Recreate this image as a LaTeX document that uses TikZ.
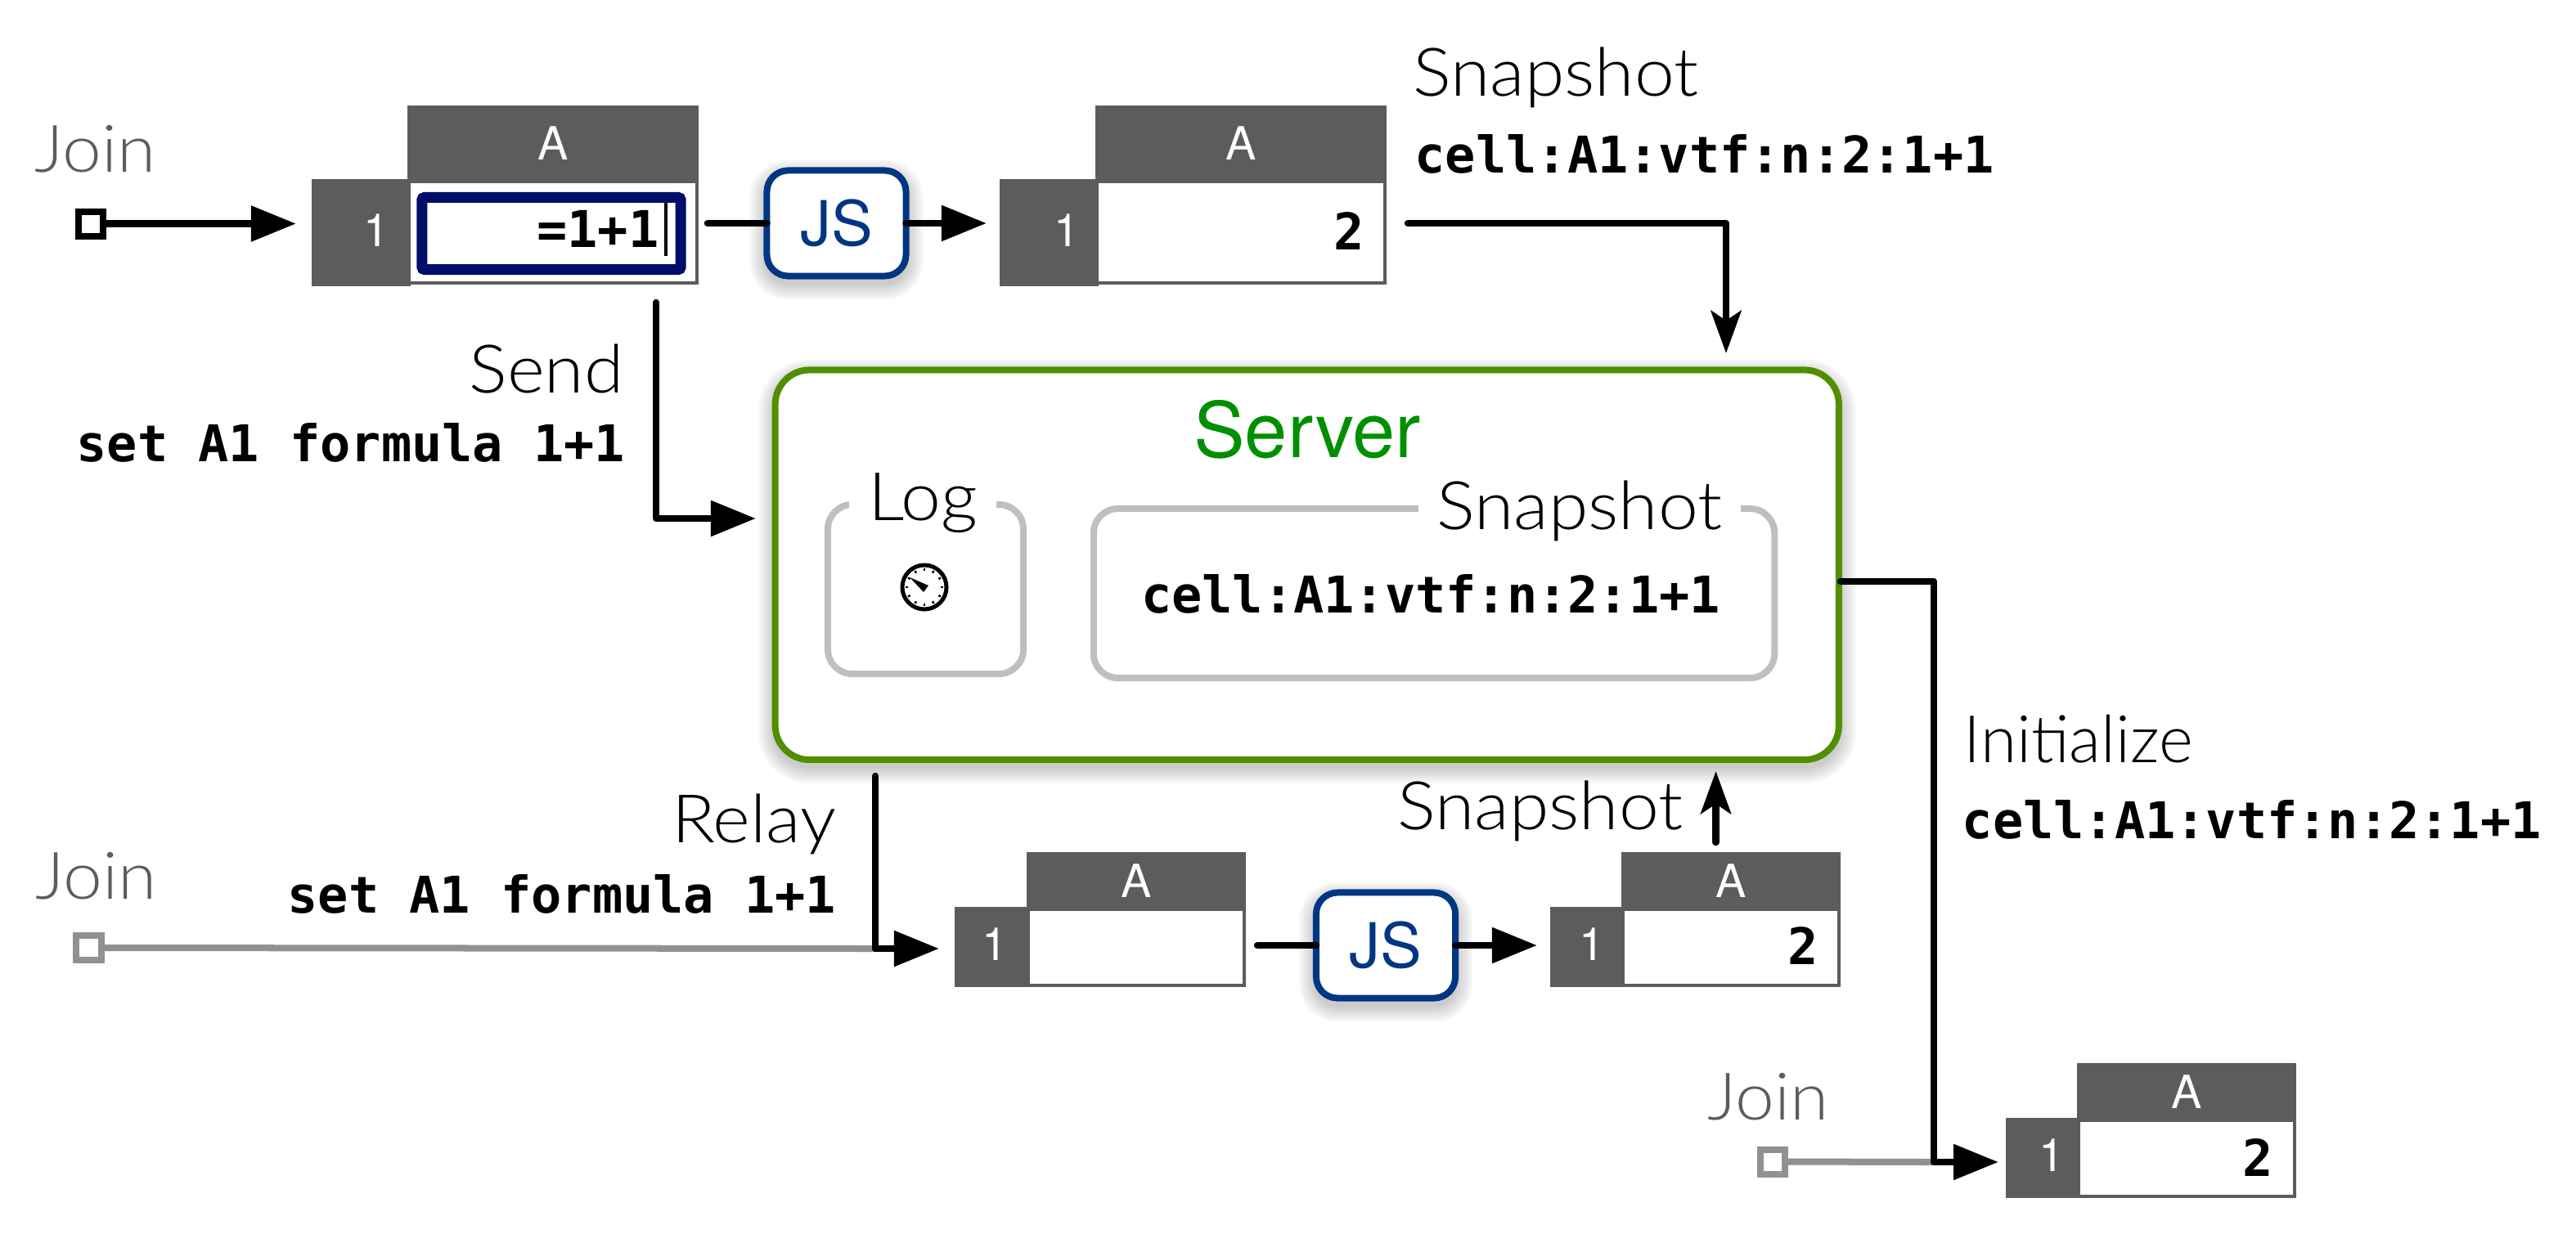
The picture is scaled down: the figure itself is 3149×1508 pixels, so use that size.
\documentclass[tikz,border=0pt]{standalone}
\usepackage{fontspec}
\setmainfont{TeX Gyre Heros}
\setmonofont{DejaVu Sans Mono}
\newfontfamily\lightfont{Lato}[UprightFont=* Light,FakeStretch=1.07]
\newfontfamily\plainlight{Lato}[UprightFont=* Light]
\usepackage{xcolor}
\usepackage{tikz}
\usetikzlibrary{arrows.meta,positioning,backgrounds}

\definecolor{sheetgray}{HTML}{5C5C5C}
\definecolor{joingray}{HTML}{919191}
\definecolor{boxgray}{HTML}{BFBFBF}
\definecolor{jsblue}{HTML}{003682}
\definecolor{selnavy}{HTML}{000E6B}
\definecolor{serverline}{HTML}{4F8F00}
\definecolor{servertext}{HTML}{008F00}

\newcommand{\softshadow}[2]{%
    \foreach \w in {.06,.12,...,.42}
        \draw[black,opacity=.03,line width=\w cm,rounded corners=#2]
            ([yshift=-.08cm]#1.north west) rectangle ([yshift=-.08cm]#1.south east);
}

\tikzset{
    labeltext/.style={inner sep=0pt,font=\lightfont\fontsize{23.3}{28}\selectfont},
    jointext/.style={labeltext,text=sheetgray,font=\lightfont\fontsize{22.8}{28}\selectfont},
    codetext/.style={inner sep=0pt,font=\ttfamily\bfseries\fontsize{17.6}{21}\selectfont},
    colhead/.style={rectangle,fill=sheetgray,text=white,inner sep=0pt,outer sep=0pt,anchor=north west,
        font=\fontsize{15.9}{19}\selectfont},
    rowhead/.style={rectangle,fill=sheetgray,inner sep=0pt,outer sep=0pt,anchor=north west},
    rowtext/.style={inner sep=0pt,text=white,font=\fontsize{15.9}{19}\selectfont},
    sheetbody/.style={rectangle,draw=sheetgray,fill=white,line width=.04cm,inner sep=0pt,outer sep=0pt},
    bigcol/.style={colhead,minimum width=3.56cm,minimum height=.93cm},
    bigbody/.style={sheetbody,minimum width=3.52cm,minimum height=1.24cm},
    bigrow/.style={rowhead,minimum width=1.21cm,minimum height=1.31cm},
    smallcol/.style={colhead,minimum width=2.68cm,minimum height=.70cm},
    smallbody/.style={sheetbody,minimum width=2.64cm,minimum height=.93cm},
    smallrow/.style={rowhead,minimum width=.91cm,minimum height=.98cm},
    jsbox/.style={rectangle,rounded corners=.26cm,draw=jsblue,fill=white,line width=.08cm,text=jsblue,
        inner sep=0pt,outer sep=0pt,minimum width=1.70cm,minimum height=1.29cm,
        font=\fontsize{21.6}{26}\selectfont},
    panelbox/.style={rectangle,rounded corners=.3cm,draw=boxgray,fill=white,line width=.08cm,
        inner sep=0pt,outer sep=0pt},
    gaptext/.style={labeltext,fill=white,inner xsep=.23cm},
    joinbox/.style={rectangle,draw=black,fill=white,line width=.08cm,inner sep=0pt,outer sep=0pt,
        minimum size=.30cm},
    graybox/.style={joinbox,draw=joingray},
    link/.style={black,line width=.085cm,line cap=round,line join=round,
        -{Triangle[length=.55cm,width=.42cm]}},
    feed/.style={black,line width=.085cm,line cap=round,line join=round,
        -{Stealth[length=.52cm,width=.37cm,inset=.12cm]}},
    graylink/.style={joingray,line width=.08cm}
}

\begin{document}
\begin{tikzpicture}[x=.01cm,y=-.01cm]
    \useasboundingbox (0,0) rectangle (3149,1508);

    \node[jointext,anchor=base west] (jointop) at (42,210) {Join};
    \node[joinbox] (joinone) at (111,273.5) {};

    \node[bigcol] (colone) at (498,129) {A};
    \node[bigbody,below=0pt of colone] (bodyone) {};
    \node[bigrow] (rowone) at (381,219) {};
    \node[rowtext] (numone) at (460,282) {1};
    \node[rectangle,rounded corners=.03cm,draw=selnavy,line width=.13cm,inner sep=0pt,outer sep=0pt,
        minimum width=3.16cm,minimum height=.88cm] (selone) at (674,285.5) {};
    \node[codetext,anchor=base east] (valone) at (806,302) {=1+1};
    \node[rectangle,fill=black,inner sep=0pt,minimum width=.045cm,minimum height=.65cm] (caret) at (814,280.5) {};

    \node[jsbox] (jsone) at (1022.5,273) {JS};

    \node[bigcol] (coltwo) at (1339,129) {A};
    \node[bigbody,below=0pt of coltwo] (bodytwo) {};
    \node[bigrow] (rowtwo) at (1222,219) {};
    \node[rowtext] (numtwo) at (1304,282) {1};
    \node[codetext,anchor=base east] (valtwo) at (1668,305) {2};

    \node[labeltext,anchor=base west] (snaptop) at (1727,117) {Snapshot};
    \node[codetext,anchor=base west] (codetop) at (1729,211) {cell:A1:vtf:n:2:1+1};

    \node[labeltext,anchor=base east] (sendtext) at (763,480) {Send};
    \node[codetext,anchor=base east] (sendcode) at (765,564) {set A1 formula 1+1};

    \node[rectangle,rounded corners=.42cm,draw=serverline,fill=white,line width=.08cm,inner sep=0pt,
        outer sep=0pt,minimum width=12.995cm,minimum height=4.765cm] (server) at (1597.75,690.75) {};
    \node[inner sep=0pt,text=servertext,font=\fontsize{26.7}{32}\selectfont,anchor=base] (servertitle) at (1598,559) {Server};

    \node[panelbox,minimum width=2.39cm,minimum height=2.07cm] (logbox) at (1131.5,720.5) {};
    \node[gaptext,anchor=base] (logtext) at (1128,636) {Log};
    \node[circle,draw=black,fill=white,line width=.05cm,inner sep=0pt,outer sep=0pt,minimum size=.54cm] (clock) at (1130,718) {};
    \foreach \a in {0,30,...,330}
        \draw[black,line width=.025cm,shift={(clock.center)}] (\a:.2cm) -- (\a:.23cm);
    \fill[black,shift={(clock.center)}] (-18,-12) -- (5,-2) -- (-1,6) -- cycle;

    \node[panelbox,minimum width=8.32cm,minimum height=2.07cm] (snapbox) at (1753,725.5) {};
    \node[gaptext,anchor=base] (snaptext) at (1931,647) {Snapshot};
    \node[codetext,anchor=base] (snapcode) at (1749,749) {cell:A1:vtf:n:2:1+1};

    \node[labeltext,anchor=base east] (relaytext) at (1023,1030) {Relay};
    \node[codetext,anchor=base east] (relaycode) at (1023,1116) {set A1 formula 1+1};
    \node[jointext,anchor=base west] (joinmid) at (43,1099) {Join};
    \node[graybox] (jointwo) at (108.5,1159) {};

    \node[smallcol] (colthree) at (1255,1042) {A};
    \node[smallbody,below=0pt of colthree] (bodythree) {};
    \node[smallrow] (rowthree) at (1167,1109) {};
    \node[rowtext] (numthree) at (1216,1155) {1};

    \node[jsbox] (jstwo) at (1694,1156) {JS};

    \node[smallcol] (colfour) at (1982,1042) {A};
    \node[smallbody,below=0pt of colfour] (bodyfour) {};
    \node[smallrow] (rowfour) at (1895,1109) {};
    \node[rowtext] (numfour) at (1946,1155) {1};
    \node[codetext,anchor=base east] (valfour) at (2223,1179) {2};

    \node[labeltext,anchor=base east] (snapup) at (2058,1014) {Snapshot};

    \node[labeltext,anchor=base west,font=\plainlight\fontsize{22.8}{28}\selectfont] (inittext) at (2400,932) {Initialize};
    \node[codetext,anchor=base west] (initcode) at (2398,1025) {cell:A1:vtf:n:2:1+1};
    \node[jointext,anchor=base west] (joinlow) at (2087,1369) {Join};
    \node[graybox] (jointhree) at (2167,1420.5) {};

    \node[smallcol] (colfive) at (2539,1300) {A};
    \node[smallbody,below=0pt of colfive] (bodyfive) {};
    \node[smallrow] (rowfive) at (2452,1367) {};
    \node[rowtext] (numfive) at (2508,1413) {1};
    \node[codetext,anchor=base east] (valfive) at (2779,1438) {2};

    \coordinate (jsonein) at (865,273);
    \coordinate (snapout) at (1721,273);
    \coordinate (snapin) at (2110,432);
    \coordinate (sendout) at (802,370);
    \coordinate (sendin) at (924,634);
    \coordinate (relayout) at (1070,949);
    \coordinate (relayin) at (1148,1160);
    \coordinate (jstwoin) at (1537,1156);
    \coordinate (upout) at (2097.5,1030);
    \coordinate (upin) at (2097.5,943);
    \coordinate (initout) at (2250,711);
    \coordinate (initbend) at (2364,711);
    \coordinate (initin) at (2443,1421);

    \draw[link,shorten >=.19cm] (joinone.east) -- (joinone.east -| rowone.west);
    \draw[line width=.085cm,line cap=round] (jsonein) -- (jsone.west);
    \draw[link,shorten >=.16cm] (jsone.east) -- (jsone.east -| rowtwo.west);
    \draw[feed] (snapout) -| (snapin);
    \draw[link] (sendout) |- (sendin);
    \draw[graylink] (jointwo.east) -- (relayout |- relayin);
    \draw[link] (relayout) |- (relayin);
    \draw[line width=.085cm,line cap=round] (jstwoin) -- (jstwo.west);
    \draw[link,shorten >=.16cm] (jstwo.east) -- (jstwo.east -| rowfour.west);
    \draw[feed] (upout) -- (upin);
    \draw[graylink] (jointhree.east) -- (initbend |- initin);
    \draw[link] (initout) -- (initbend) |- (initin);

    \begin{pgfonlayer}{background}
        \softshadow{server}{.42cm}
        \softshadow{jsone}{.26cm}
        \softshadow{jstwo}{.26cm}
    \end{pgfonlayer}
\end{tikzpicture}
\end{document}
